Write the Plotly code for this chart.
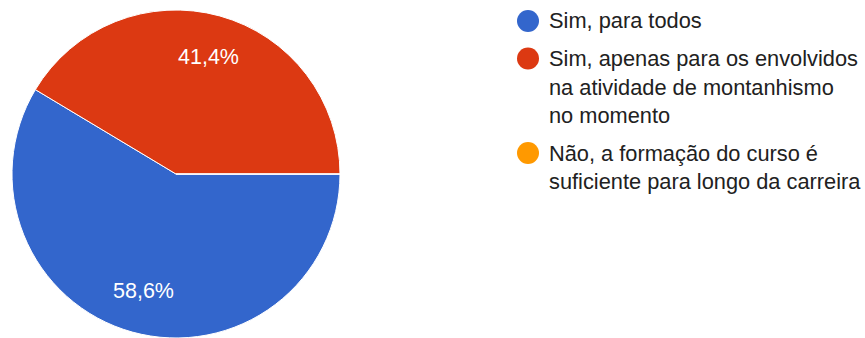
import math
import plotly.graph_objects as go

labels = ["Sim, para todos",
          "Sim, apenas para os envolvidos na atividade de montanhismo no momento",
          "Não, a formação do curso é suficiente para longo da carreira"]
legend_lines = [["Sim, para todos"],
                ["Sim, apenas para os envolvidos", "na atividade de montanhismo", "no momento"],
                ["Não, a formação do curso é", "suficiente para longo da carreira"]]
values = [58.6, 41.4, 0]
colors = ["#3366CC", "#DC3912", "#FF9900"]

W, H = 865, 338
FONT = "Arial, Liberation Sans, sans-serif"
FS = 21.5
LFS = 21.8

# pie geometry (pixels)
PX0, PX1, PY0 = 12, 340, 10
R = (PX1 - PX0) / 2
PCX, PCY = (PX0 + PX1) / 2, PY0 + R

fig = go.Figure()
fig.add_trace(go.Pie(
    labels=labels, values=values, sort=False,
    direction="clockwise", rotation=90,
    marker=dict(colors=colors, line=dict(color="white", width=1)),
    textinfo="none",
    domain=dict(x=[PX0 / W, PX1 / W], y=[max(0.0, 1 - (PY0 + 2 * R) / H), 1 - PY0 / H]),
    showlegend=False, hoverinfo="label+percent",
))

annotations, shapes = [], []

# slice percentage labels placed at 0.74 R along each slice's mid angle
total = sum(values)
start = 0.0  # degrees, 3 o'clock, going clockwise
for v in values:
    if v <= 0:
        continue
    sweep = 360 * v / total
    mid = math.radians(start - sweep / 2)
    lx = PCX + 0.74 * R * math.cos(mid)
    ly = PCY - 0.74 * R * math.sin(mid)
    pct = f"{100 * v / total:.1f}%".replace(".", ",")
    annotations.append(dict(text=pct, xref="paper", yref="paper",
                            x=lx / W, y=1 - ly / H, xanchor="center", yanchor="middle",
                            showarrow=False, font=dict(size=FS, color="white", family=FONT)))
    start -= sweep

# custom legend
y = 21.0
line_h, gap = 28.5, 37.5
cx, tx, r = 528, 547, 11
for lines, col in zip(legend_lines, colors):
    shapes.append(dict(type="circle", xref="paper", yref="paper",
                       x0=(cx - r) / W, x1=(cx + r) / W,
                       y0=1 - (y + r) / H, y1=1 - (y - r) / H,
                       fillcolor=col, line=dict(width=0)))
    for k, t in enumerate(lines):
        yy = y + k * line_h
        annotations.append(dict(text=t, xref="paper", yref="paper",
                                x=tx / W, y=1 - yy / H, xanchor="left", yanchor="middle",
                                showarrow=False, font=dict(size=LFS, color="#212121", family=FONT)))
    y = y + (len(lines) - 1) * line_h + gap

fig.update_layout(width=W, height=H, margin=dict(l=0, r=0, t=0, b=0),
                  paper_bgcolor="white", plot_bgcolor="white",
                  shapes=shapes, annotations=annotations,
                  font=dict(family=FONT))
fig.write_html("out.html", config={"displayModeBar": False},
               post_script="document.body.style.margin='0';document.body.style.overflow='hidden';")
